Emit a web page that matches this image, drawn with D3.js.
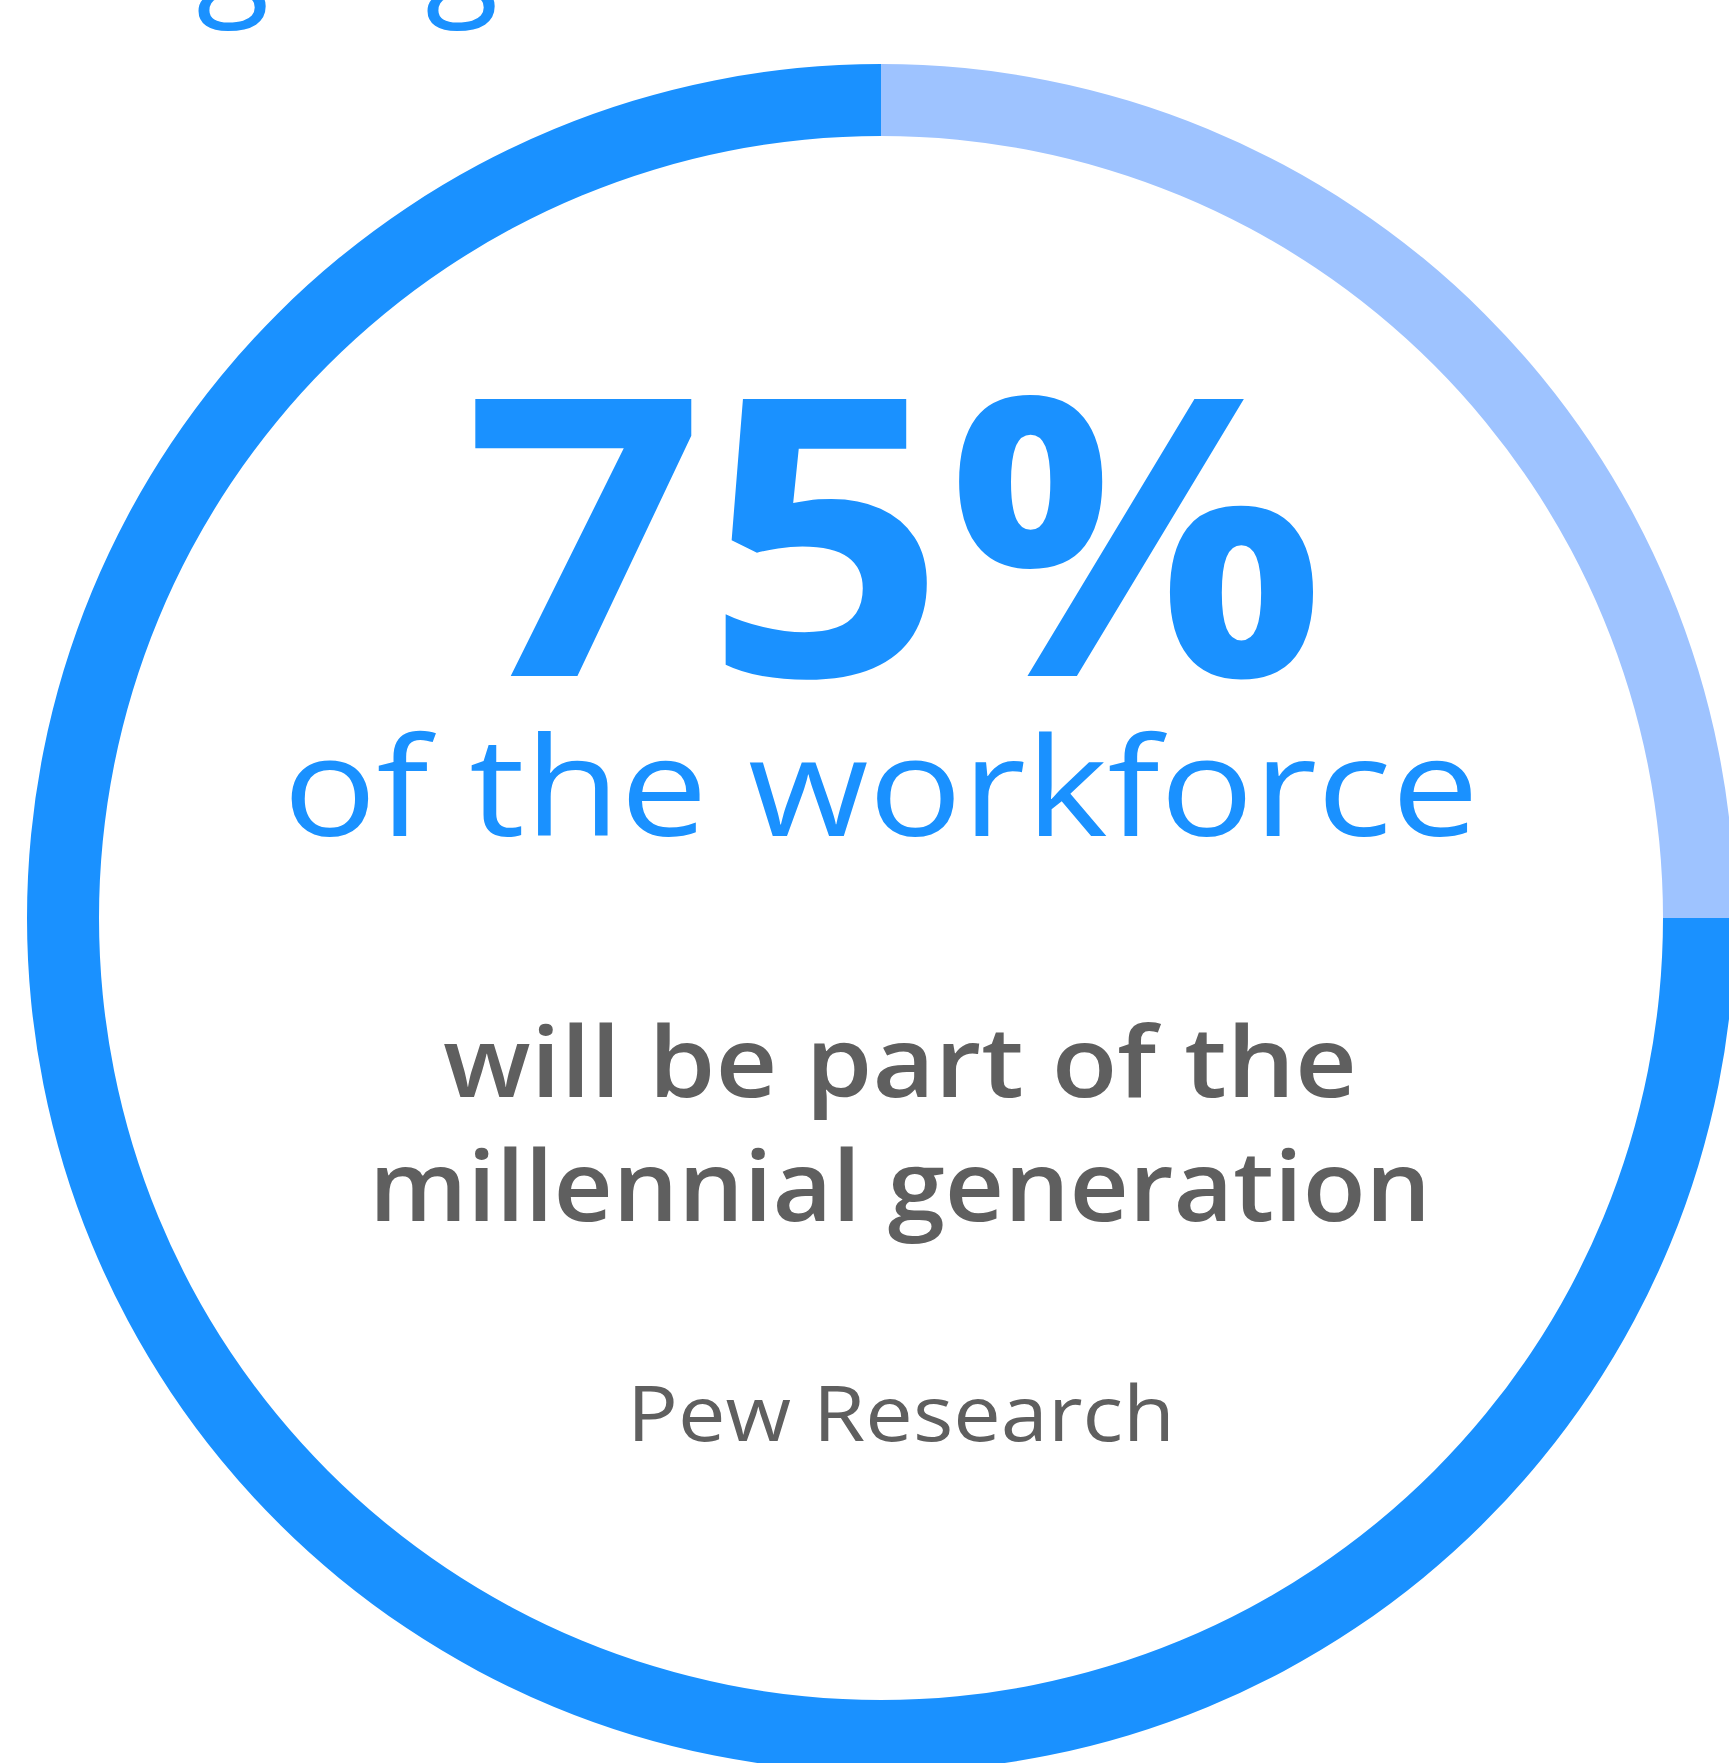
<!DOCTYPE html>
<html>
<head>
<meta charset="utf-8">
<script src="https://cdn.jsdelivr.net/npm/d3@7"></script>
<style>
  html, body { margin: 0; padding: 0; background: #fff; overflow: hidden; }
  text { font-family: "Open Sans", "Noto Sans", sans-serif; }
</style>
</head>
<body>
<div id="chart"></div>
<script>
// 밀레니얼 세대 비율 도넛 차트
const width = 1729;
const height = 1763;

const labels = ['millennial', 'other'];
const values = [75, 25];
const colors = ['#1a91ff', '#9ec3ff'];

const headline = '75%';
const subline = 'of the workforce';
const bodyLines = ['will be part of the', 'millennial generation'];
const source = 'Pew Research';
const cutTitle = ['g', 'g']; // 위쪽에서 잘린 제목 글자

const cx = 881, cy = 918;
const outerR = 854, innerR = 782;

const svg = d3.select('#chart').append('svg')
  .attr('width', width)
  .attr('height', height);

const pie = d3.pie()
  .sort(null)
  .startAngle(Math.PI / 2)
  .endAngle(Math.PI / 2 + 2 * Math.PI);

const arc = d3.arc().innerRadius(innerR).outerRadius(outerR);

const color = d3.scaleOrdinal().domain(labels).range(colors);

svg.append('g')
  .attr('transform', `translate(${cx}, ${cy})`)
  .selectAll('path')
  .data(pie(values))
  .join('path')
  .attr('d', arc)
  .attr('fill', (d, i) => color(labels[i]));

// 잘린 제목
svg.append('g')
  .selectAll('text').data(cutTitle).join('text')
  .attr('x', (d, i) => 233 + i * 229)
  .attr('y', -1)
  .attr('text-anchor', 'middle')
  .attr('font-size', 134)
  .attr('fill', '#1a91ff')
  .text(d => d);

const tx = 897;

svg.append('text')
  .attr('x', tx - 2)
  .attr('y', 676)
  .attr('text-anchor', 'middle')
  .attr('font-size', 388)
  .attr('font-weight', 700)
  .attr('fill', '#1a91ff')
  .attr('textLength', 862)
  .attr('lengthAdjust', 'spacingAndGlyphs')
  .text(headline);

svg.append('text')
  .attr('x', tx - 16)
  .attr('y', 836)
  .attr('text-anchor', 'middle')
  .attr('font-size', 138)
  .attr('font-weight', 400)
  .attr('fill', '#1a91ff')
  .attr('textLength', 1196)
  .attr('lengthAdjust', 'spacingAndGlyphs')
  .text(subline);

const bodyLen = [914, 1062];
svg.append('g')
  .selectAll('text').data(bodyLines).join('text')
  .attr('x', tx + 3)
  .attr('y', (d, i) => 1097 + i * 124)
  .attr('text-anchor', 'middle')
  .attr('font-size', 97)
  .attr('font-weight', 600)
  .attr('fill', '#5f5f5f')
  .attr('textLength', (d, i) => bodyLen[i])
  .attr('lengthAdjust', 'spacingAndGlyphs')
  .text(d => d);

svg.append('text')
  .attr('x', tx + 4)
  .attr('y', 1441)
  .attr('text-anchor', 'middle')
  .attr('font-size', 77)
  .attr('font-weight', 400)
  .attr('fill', '#5f5f5f')
  .attr('textLength', 548)
  .attr('lengthAdjust', 'spacingAndGlyphs')
  .text(source);
</script>
</body>
</html>
